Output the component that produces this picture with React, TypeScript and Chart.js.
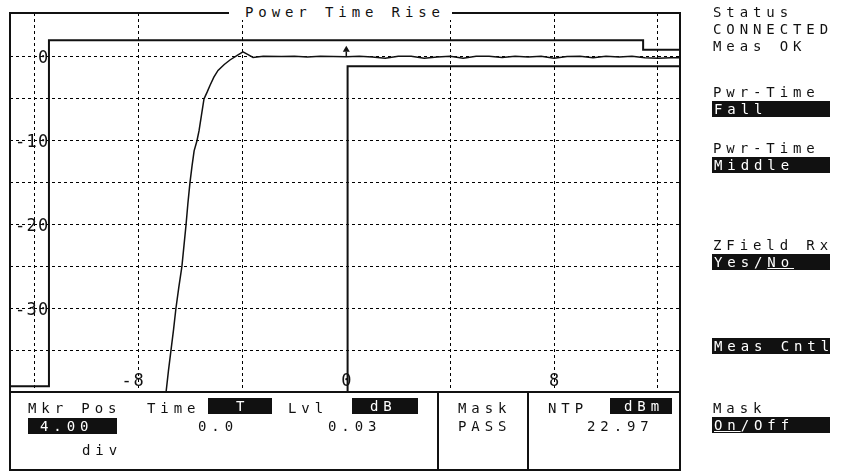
import React, { useEffect, useRef } from "react";
import { Chart, registerables } from "chart.js";

Chart.register(...registerables);

// ---- data ----
const traceTime = [
  -13, -7.1, -6.94, -6.85, -6.75, -6.65, -6.56, -6.45, -6.33, -6.25,
  -6.17, -6.1, -6.02, -5.94, -5.86, -5.75, -5.67, -5.58, -5.48, -5.36,
  -5.25, -5.1, -4.94, -4.7, -4.48, -4.2, -3.98, -3.8, -3.59, -3.2,
  -2.5, -2, -1.5, -1, -0.5, 0, 0.5, 1, 1.5, 2,
  2.5, 3, 3.5, 4, 4.5, 5, 5.5, 6, 6.5, 7,
  7.5, 8, 8.5, 9, 9.5, 10, 10.5, 11, 11.5, 12,
  12.5, 13,
];
const traceLevel = [
  -45, -45, -40, -37.5, -35, -32.5, -30, -27.5, -25, -22.5,
  -20, -17.5, -15, -13, -11.2, -10, -8.8, -7, -5, -4.2,
  -3.4, -2.4, -1.6, -0.9, -0.36, 0.2, 0.6, 0.3, -0.05, 0.1,
  0.05, 0.1, 0.0, 0.1, 0.05, 0.03, 0.1, 0.0, -0.15, 0.1,
  0.1, -0.15, 0.0, 0.1, -0.15, 0.1, 0.1, -0.05, 0.1, 0.0,
  0.1, -0.15, 0.05, 0.1, -0.1, 0.1, 0.0, 0.1, -0.1, -0.15,
  -0.1, -0.1,
];
const upperMaskTime = [-13, -11.45, -11.45, 11.43, 11.43, 13];
const upperMaskLevel = [-39.3, -39.3, 2.0, 2.0, 0.85, 0.85];
const lowerMaskTime = [0.05, 0.05, 13];
const lowerMaskLevel = [-45, -1.1, -1.1];
const markerTime = [0];
const markerLevel = [0.03];

const xGridTicks = [-12, -8, -4, 4, 8, 12];
const yGridTicks = [-35, -30, -25, -20, -15, -10, -5, 0];
const xTickLabels = [-8, 0, 8];
const yTickLabels = [0, -10, -20, -30];

const FONT = '"DejaVu Sans Mono", "Liberation Mono", monospace';
const INK = "#111";

function drawChars(ctx: CanvasRenderingContext2D, text: string, lastCenterX: number, baseline: number, pitch: number) {
  const chars = text.split("");
  ctx.textAlign = "center";
  for (let i = 0; i < chars.length; i++) {
    const x = lastCenterX - (chars.length - 1 - i) * pitch;
    ctx.fillText(chars[i], x, baseline);
  }
}

const scopePlugin = {
  id: "scope",
  afterDraw(chart: any) {
    const { ctx, chartArea: a, scales } = chart;
    const xs = scales.x;
    const ys = scales.y;
    ctx.save();
    ctx.strokeStyle = INK;
    ctx.lineWidth = 2;
    ctx.strokeRect(a.left, a.top, a.right - a.left, a.bottom - a.top);
    ctx.fillStyle = INK;
    ctx.font = `17px ${FONT}`;
    ctx.textBaseline = "alphabetic";
    yTickLabels.forEach((v) => drawChars(ctx, String(v), a.left + 33, ys.getPixelForValue(v) + 6.5, 11.5));
    xTickLabels.forEach((v) => drawChars(ctx, String(v), xs.getPixelForValue(v), a.bottom - 6, 12));
    // marker arrow
    const mx = xs.getPixelForValue(markerTime[0]);
    const my = ys.getPixelForValue(markerLevel[0]);
    ctx.beginPath();
    ctx.moveTo(mx, my - 11);
    ctx.lineTo(mx - 3.5, my - 5);
    ctx.lineTo(mx + 3.5, my - 5);
    ctx.closePath();
    ctx.fill();
    ctx.lineWidth = 1.5;
    ctx.beginPath();
    ctx.moveTo(mx, my - 5);
    ctx.lineTo(mx, my);
    ctx.stroke();
    ctx.restore();
  },
};

const base: React.CSSProperties = {
  position: "absolute",
  fontFamily: FONT,
  fontSize: 14,
  lineHeight: "16px",
  letterSpacing: "4.9px",
  whiteSpace: "pre",
  color: INK,
};

function T({ x, cy, children }: { x: number; cy: number; children: React.ReactNode }) {
  return <div style={{ ...base, left: x, top: cy - 8 }}>{children}</div>;
}

function Box({ x, w, cy, tx, children, h = 16 }: { x: number; w: number; cy: number; tx: number; children: React.ReactNode; h?: number }) {
  return (
    <div
      style={{
        ...base,
        left: x,
        top: cy - h / 2,
        width: w,
        height: h,
        lineHeight: h + "px",
        background: INK,
        color: "#fff",
        paddingLeft: tx - x,
        boxSizing: "border-box",
      }}
    >
      {children}
    </div>
  );
}

export default function App() {
  const ref = useRef<HTMLCanvasElement>(null);
  useEffect(() => {
    if (!ref.current) return;
    const pts = (xs: number[], ys: number[]) => xs.map((x, i) => ({ x, y: ys[i] }));
    const chart = new Chart(ref.current, {
      type: "line",
      data: {
        datasets: [
          { label: "Trace", data: pts(traceTime, traceLevel), borderColor: INK, borderWidth: 1.5, pointRadius: 0, tension: 0 },
          { label: "Upper mask", data: pts(upperMaskTime, upperMaskLevel), borderColor: INK, borderWidth: 2, pointRadius: 0 },
          { label: "Lower mask", data: pts(lowerMaskTime, lowerMaskLevel), borderColor: INK, borderWidth: 2, pointRadius: 0 },
        ],
      },
      options: {
        animation: false,
        responsive: false,
        maintainAspectRatio: false,
        events: [],
        layout: { padding: { left: 10, top: 13, right: 163, bottom: 81 } },
        plugins: { legend: { display: false }, tooltip: { enabled: false }, title: { display: false } },
        scales: {
          x: {
            type: "linear",
            min: -12.95,
            max: 12.85,
            afterBuildTicks: (s: any) => {
              s.ticks = xGridTicks.map((v) => ({ value: v }));
            },
            ticks: { display: false },
            grid: { drawTicks: false, color: "#000", lineWidth: 1 },
            border: { display: false, dash: [3, 3] },
          },
          y: {
            type: "linear",
            min: -40,
            max: 5.25,
            afterBuildTicks: (s: any) => {
              s.ticks = yGridTicks.map((v) => ({ value: v }));
            },
            ticks: { display: false },
            grid: { drawTicks: false, color: "#000", lineWidth: 1 },
            border: { display: false, dash: [3, 3] },
          },
        },
      },
      plugins: [scopePlugin],
    } as any);
    return () => chart.destroy();
  }, []);

  return (
    <div style={{ position: "absolute", left: 0, top: 0, width: 843, height: 473, background: "#fff", overflow: "hidden" }}>
      <canvas ref={ref} width={843} height={473} style={{ position: "absolute", left: 0, top: 0, width: 843, height: 473 }} />
      {/* title */}
      <div style={{ ...base, left: 229, top: 4, width: 223, paddingLeft: 16, boxSizing: "border-box", background: "#fff" }}>Power Time Rise</div>
      {/* bottom panel */}
      <div style={{ position: "absolute", left: 9, top: 391, width: 672, height: 80, border: `2px solid ${INK}`, boxSizing: "border-box" }} />
      <div style={{ position: "absolute", left: 437, top: 391, width: 2, height: 80, background: INK }} />
      <div style={{ position: "absolute", left: 527, top: 391, width: 2, height: 80, background: INK }} />
      <T x={28} cy={408}>Mkr Pos</T>
      <Box x={28} w={89} cy={426} tx={40}>4.00</Box>
      <T x={82} cy={450}>div</T>
      <T x={147} cy={408}>Time</T>
      <Box x={208} w={64} cy={406} tx={236}>T</Box>
      <T x={198} cy={426}>0.0</T>
      <T x={288} cy={408}>Lvl</T>
      <Box x={352} w={66} cy={406} tx={370}>dB</Box>
      <T x={328} cy={426}>0.03</T>
      <T x={458} cy={408}>Mask</T>
      <T x={458} cy={426}>PASS</T>
      <T x={548} cy={408}>NTP</T>
      <Box x={610} w={62} cy={406} tx={624}>dBm</Box>
      <T x={587} cy={426}>22.97</T>
      {/* right soft keys */}
      <T x={713} cy={12}>Status</T>
      <T x={713} cy={29}>CONNECTED</T>
      <T x={713} cy={46}>Meas OK</T>
      <T x={713} cy={92}>Pwr-Time</T>
      <Box x={712} w={118} cy={109} tx={714}>Fall</Box>
      <T x={713} cy={148}>Pwr-Time</T>
      <Box x={712} w={118} cy={165} tx={714}>Middle</Box>
      <T x={713} cy={245}>ZField Rx</T>
      <Box x={712} w={118} cy={262} tx={714}>
        Yes/<span style={{ textDecoration: "underline" }}>No</span>
      </Box>
      <Box x={712} w={118} cy={346} tx={714}>Meas Cntl</Box>
      <T x={713} cy={408}>Mask</T>
      <Box x={712} w={118} cy={425} tx={714}>
        <span style={{ textDecoration: "underline" }}>On</span>/Off
      </Box>
    </div>
  );
}
